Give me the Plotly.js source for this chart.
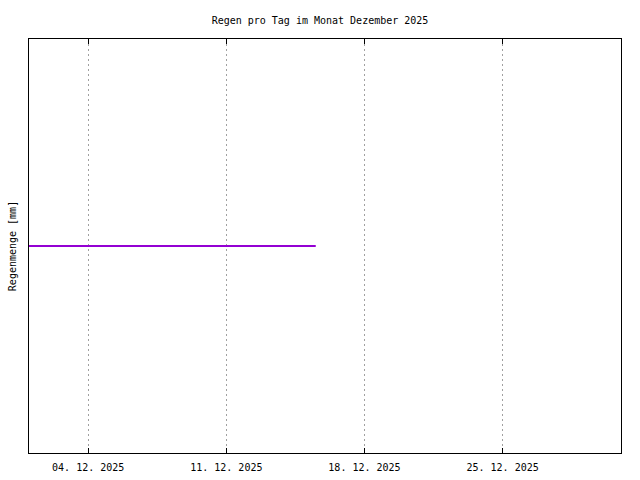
<!DOCTYPE html>
<html>
<head>
<meta charset="utf-8">
<script src="https://cdn.plot.ly/plotly-3.0.1.min.js"></script>
<style>html,body{margin:0;padding:0;background:#fff;}#chart{width:640px;height:480px;}</style>
</head>
<body>
<div id="chart"></div>
<script>
// Data: daily rain amounts (mm), December 2025
const dates = [
  "2025-12-01","2025-12-02","2025-12-03","2025-12-04","2025-12-05",
  "2025-12-06","2025-12-07","2025-12-08","2025-12-09","2025-12-10",
  "2025-12-11","2025-12-12","2025-12-13","2025-12-14","2025-12-15",
  "2025-12-15 12:45"
];
const rain = [0,0,0,0,0,0,0,0,0,0,0,0,0,0,0,0];
const tickDates = ["2025-12-04","2025-12-11","2025-12-18","2025-12-25"];
const tickLabels = ["04. 12. 2025","11. 12. 2025","18. 12. 2025","25. 12. 2025"];

const font = {family: "DejaVu Sans Mono, Liberation Mono, monospace", size: 10, color: "#000"};

Plotly.newPlot("chart", [{
  x: dates, y: rain, type: "scatter", mode: "lines",
  line: {color: "#9400D3", width: 2}, hoverinfo: "none"
}], {
  width: 640, height: 480,
  paper_bgcolor: "#fff", plot_bgcolor: "#fff",
  margin: {l: 29, r: 19, t: 39, b: 27, pad: 0},
  font: font,
  showlegend: false,
  title: {text: "Regen pro Tag im Monat Dezember 2025", font: font, x: 0.5, xanchor: "center", y: 0.958, yanchor: "middle"},
  xaxis: {
    type: "date", range: ["2025-12-01", "2025-12-31"],
    tickvals: tickDates, ticktext: tickLabels, tickangle: 0,
    showgrid: true, gridcolor: "#a0a0a0", griddash: "2px,3px", gridwidth: 1,
    ticks: "inside", ticklen: 5, tickcolor: "#000", tickwidth: 1,
    ticklabelstandoff: 5,
    showline: true, linecolor: "#000", linewidth: 1, mirror: "ticks",
    zeroline: false, tickfont: font, fixedrange: true
  },
  yaxis: {
    range: [-1, 1], showticklabels: false, ticks: "", showgrid: false,
    zeroline: false, showline: true, linecolor: "#000", linewidth: 1, mirror: true,
    title: {text: "Regenmenge [mm]", font: font, standoff: 9}, fixedrange: true
  }
}, {staticPlot: true, displayModeBar: false});
</script>
</body>
</html>
